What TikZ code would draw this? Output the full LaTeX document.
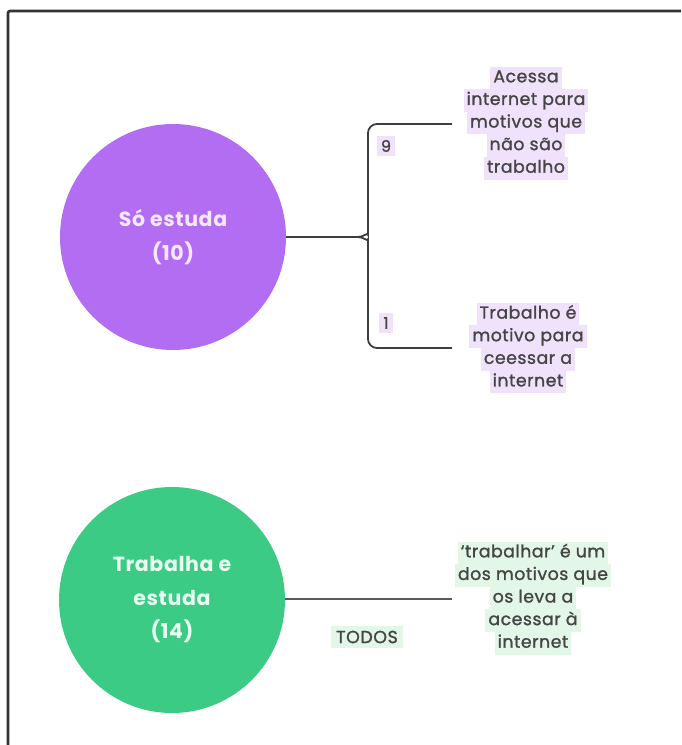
\documentclass[tikz,border=0pt]{standalone}
\usepackage{fontspec}
\setmainfont{Poppins}
\newfontfamily\leaffont{Poppins}[LetterSpace=3, FakeBold=1.3]
\newfontfamily\circfont{Poppins}[LetterSpace=3]
\definecolor{purp}{HTML}{B26DF3}
\definecolor{grn}{HTML}{3CCB84}
\definecolor{lp}{HTML}{F1E2FC}
\definecolor{lg}{HTML}{E2F7E7}
\definecolor{txt}{HTML}{454545}
\definecolor{purptxt}{HTML}{F6E8FF}
\definecolor{grntxt}{HTML}{E8FFF1}
\newcommand{\hlp}[1]{{\setlength{\fboxsep}{0pt}\colorbox{lp}{\kern3pt\strut#1\kern3pt}}}
\newcommand{\hlg}[1]{{\setlength{\fboxsep}{0pt}\colorbox{lg}{\kern3pt\strut#1\kern3pt}}}
\tikzset{
  bigcirc/.style={circle, minimum size=226pt, inner sep=0pt, align=center,
    font=\fontsize{20.5}{33.5}\circfont\bfseries},
  leaftext/.style={align=center, inner sep=0pt, text=txt,
    font=\fontsize{17.3}{22.6}\leaffont},
  numlab/.style={inner sep=4pt, text=txt, font=\fontsize{16}{18}\leaffont},
  conn/.style={line width=1.8pt, draw=txt!90!black},
}
\begin{document}
\begin{tikzpicture}[x=1pt,y=-1pt]
\useasboundingbox (0,0) rectangle (681,745);
% frame
\draw[line width=2.6pt, draw=black!80, rounded corners=2pt] (8,745) -- (8,11) -- (681,11);
% circles
\node[bigcirc, fill=purp, text=purptxt] (s) at (173,237) {Só estuda\\(10)};
\node[bigcirc, fill=grn, text=grntxt] (w) at (172,600) {Trabalha e\\estuda\\(14)};
% leaf texts
\node[leaftext] (t1) at (526,123) {\hlp{Acessa}\\\hlp{internet para}\\\hlp{motivos que}\\\hlp{não são}\\\hlp{trabalho}};
\node[leaftext] (t2) at (528,348) {\hlp{Trabalho é}\\\hlp{motivo para}\\\hlp{ceessar a}\\\hlp{internet}};
\node[leaftext] (t3) at (533,598) {\hlg{‘trabalhar’ é um}\\\hlg{dos motivos que}\\\hlg{os leva a}\\\hlg{acessar à}\\\hlg{internet}};
% labels
\node[numlab, fill=lp] (n9) at (386,146) {9};
\node[numlab, fill=lp] (n1) at (386,323) {1};
\node[numlab, fill=lg, inner sep=5pt, font=\fontsize{17.5}{19}\leaffont] (todos) at (367,637) {TODOS};
% connector coordinates
\coordinate (j) at (358,237);
\coordinate (e1) at (452,124);
\coordinate (e2) at (452,348);
\coordinate (e3) at (452,599);
% brace connector
\draw[conn] (s.east) -- (j);
\draw[conn, rounded corners=9pt] (j) to[out=0,in=-90] (368,226) |- (e1);
\draw[conn, rounded corners=9pt] (j) to[out=0,in=90] (368,248) |- (e2);
% green connector
\draw[conn, draw=black!65] (w.east |- e3) -- (e3);
\end{tikzpicture}
\end{document}
